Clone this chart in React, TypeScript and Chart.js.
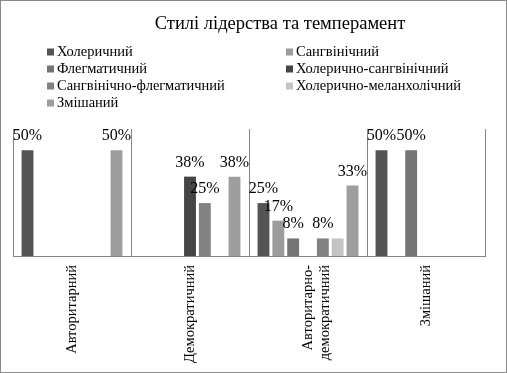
import React, { useEffect, useRef } from 'react';
import { Chart, registerables } from 'chart.js';

Chart.register(...registerables);

const TITLE = 'Стилі лідерства та темперамент';
const CATEGORIES: (string | string[])[] = ['Авторитарний', 'Демократичний', ['Авторитарно-', 'демократичний'], 'Змішаний'];

const SERIES_NAMES = [
  'Холеричний',
  'Сангвінічний',
  'Флегматичний',
  'Холерично-сангвінічний',
  'Сангвінічно-флегматичний',
  'Холерично-меланхолічний',
  'Змішаний',
];
const SERIES_COLORS = ['#545454', '#9c9c9c', '#747474', '#454545', '#828282', '#c4c4c4', '#9e9e9e'];
// whether each series shows its value labels in the source chart
const SERIES_LABELED = [true, true, true, true, true, false, true];

const CHOLERIC = [50, null, 25, 50];
const SANGUINE = [null, null, 16.7, null];
const PHLEGMATIC = [null, null, 8.3, 50];
const CHOL_SANG = [null, 37.5, null, null];
const SANG_PHLEG = [null, 25, 8.3, null];
const CHOL_MELAN = [null, null, 8.3, null];
const MIXED = [50, 37.5, 33.3, null];

const SERIES_VALUES = [CHOLERIC, SANGUINE, PHLEGMATIC, CHOL_SANG, SANG_PHLEG, CHOL_MELAN, MIXED];

const FONT = "'Liberation Serif', 'Times New Roman', serif";

const decorPlugin = {
  id: 'decor',
  beforeDraw(chart: any) {
    const { ctx, width, height } = chart;
    ctx.save();
    ctx.fillStyle = '#ffffff';
    ctx.fillRect(0, 0, width, height);
    ctx.strokeStyle = '#8a8a8a';
    ctx.lineWidth = 1;
    ctx.strokeRect(0.5, 0.5, width - 1, height - 1);
    ctx.restore();
  },
  afterDraw(chart: any) {
    const { ctx } = chart;
    ctx.save();
    // title
    ctx.fillStyle = '#000';
    ctx.font = `18.5px ${FONT}`;
    ctx.textAlign = 'center';
    ctx.textBaseline = 'middle';
    ctx.fillText(TITLE, 280, 24);
    // legend (two columns)
    ctx.font = `14.5px ${FONT}`;
    ctx.textAlign = 'left';
    const colX = [47, 286];
    const rowY = [52, 69, 86, 103];
    chart.data.datasets.forEach((ds: any, i: number) => {
      const x = colX[i % 2];
      const y = rowY[Math.floor(i / 2)];
      ctx.fillStyle = ds.backgroundColor;
      ctx.fillRect(x, y - 3.5, 7, 7);
      ctx.fillStyle = '#000';
      ctx.fillText(ds.label, x + 10, y + 0.5);
    });
    ctx.restore();
  },
  afterDatasetsDraw(chart: any) {
    const { ctx } = chart;
    ctx.save();
    ctx.fillStyle = '#000';
    ctx.font = `16px ${FONT}`;
    ctx.textAlign = 'center';
    ctx.textBaseline = 'alphabetic';
    chart.data.datasets.forEach((ds: any, di: number) => {
      if (!SERIES_LABELED[di]) return;
      const meta = chart.getDatasetMeta(di);
      meta.data.forEach((bar: any, i: number) => {
        const v = ds.data[i];
        if (v === null || v === undefined) return;
        ctx.fillText(`${Math.round(v)}%`, bar.x, bar.y - 10);
      });
    });
    ctx.restore();
  },
};

export default function App() {
  const ref = useRef<HTMLCanvasElement | null>(null);
  useEffect(() => {
    if (!ref.current) return;
    const chart = new Chart(ref.current, {
      type: 'bar',
      data: {
        labels: CATEGORIES as any,
        datasets: SERIES_NAMES.map((name, i) => ({
          label: name,
          data: SERIES_VALUES[i] as any,
          backgroundColor: SERIES_COLORS[i],
          borderWidth: 0,
          categoryPercentage: 0.88,
          barPercentage: 0.8,
        })),
      },
      options: {
        animation: false,
        responsive: false,
        devicePixelRatio: 1,
        layout: { padding: { left: 13, right: 22, top: 129, bottom: 0 } },
        plugins: {
          legend: { display: false },
          title: { display: false },
          tooltip: { enabled: false },
        },
        scales: {
          x: {
            afterFit(scale: any) {
              scale.height = 117;
            },
            grid: {
              display: true,
              drawTicks: false,
              color: '#868686',
              lineWidth: 1,
            },
            border: { display: true, color: '#868686', width: 1 },
            ticks: {
              color: '#000',
              font: { family: FONT, size: 14.5 },
              minRotation: 90,
              maxRotation: 90,
              padding: 9,
              autoSkip: false,
            },
          },
          y: {
            display: false,
            min: 0,
            max: 60,
          },
        },
      },
      plugins: [decorPlugin],
    });
    return () => chart.destroy();
  }, []);
  return (
    <div style={{ position: 'fixed', left: 0, top: 0, width: 507, height: 373 }}>
      <canvas ref={ref} width={507} height={373} style={{ display: 'block' }} />
    </div>
  );
}
